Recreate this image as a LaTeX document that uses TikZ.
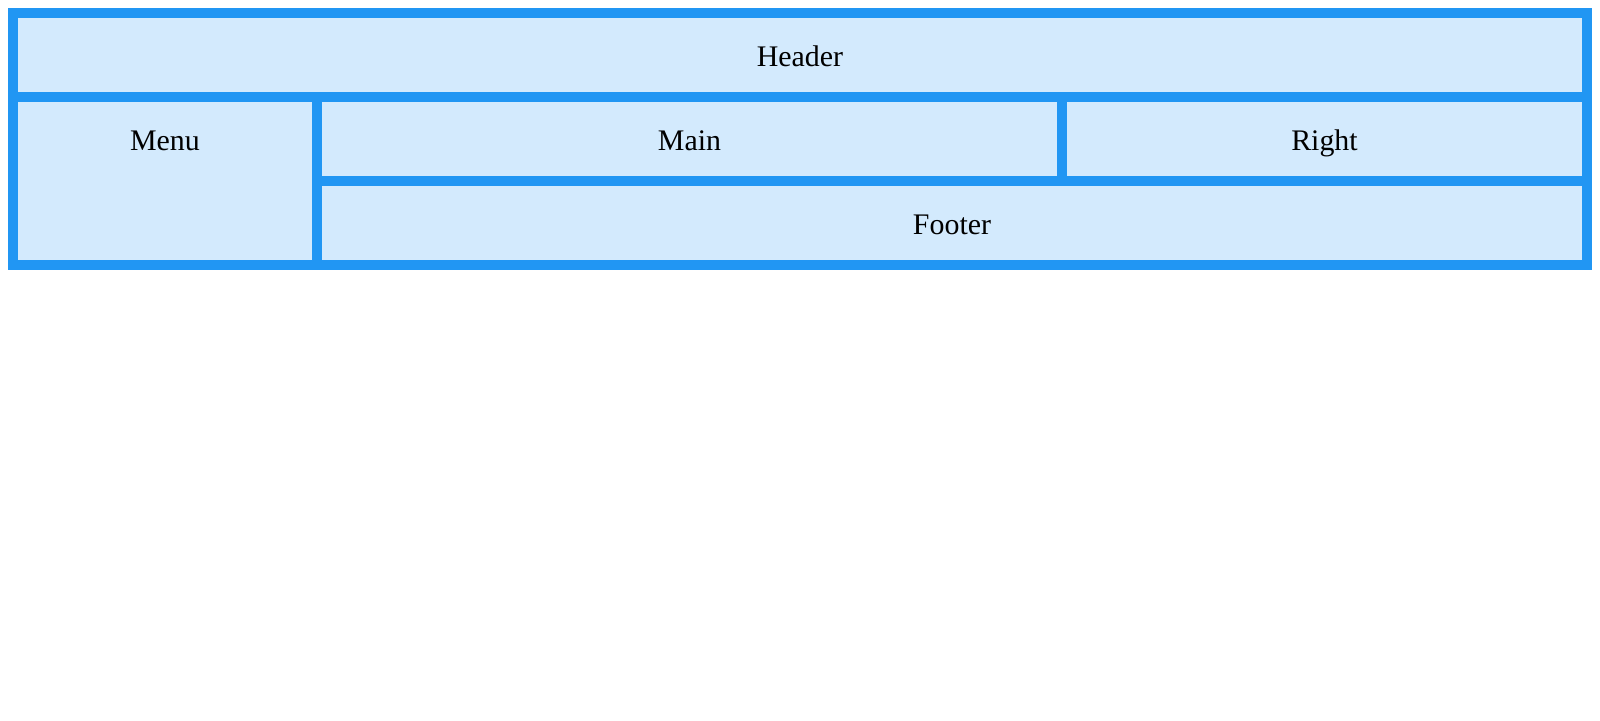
\documentclass[tikz,border=0pt]{standalone}
\usepackage{fontspec}
\setmainfont{Liberation Serif}
\usepackage{xcolor}
\usepackage{tikz}
\definecolor{GridBlue}{HTML}{2196F3}
\definecolor{CellFill}{HTML}{D3EAFD}
\definecolor{Ink}{HTML}{000000}
\tikzset{
  frame/.style={fill=GridBlue, draw=none},
  cell/.style={fill=CellFill, draw=none},
  label/.style={color=Ink, font=\fontsize{30}{36}\selectfont, inner sep=0pt,
    text height=20bp, text depth=6.5bp},
}

\begin{document}
\begin{tikzpicture}[x=1bp, y=-1bp]
  \useasboundingbox (0,0) rectangle (1600,721);

  % Grid container
  \fill[frame] (8,8) rectangle (1592,270);

  % Cells
  \fill[cell] (18,18) rectangle (1582,92);
  \fill[cell] (18,102) rectangle (312,260);
  \fill[cell] (322,102) rectangle (1057,176);
  \fill[cell] (1067,102) rectangle (1582,176);
  \fill[cell] (322,186) rectangle (1582,260);

  % Labels
  \node[label] (header) at (800,60) {Header};
  \node[label] (menu) at (165,144) {Menu};
  \node[label] (main) at (689.5,144) {Main};
  \node[label] (right) at (1324.5,144) {Right};
  \node[label] (footer) at (952,228) {Footer};
\end{tikzpicture}
\end{document}
